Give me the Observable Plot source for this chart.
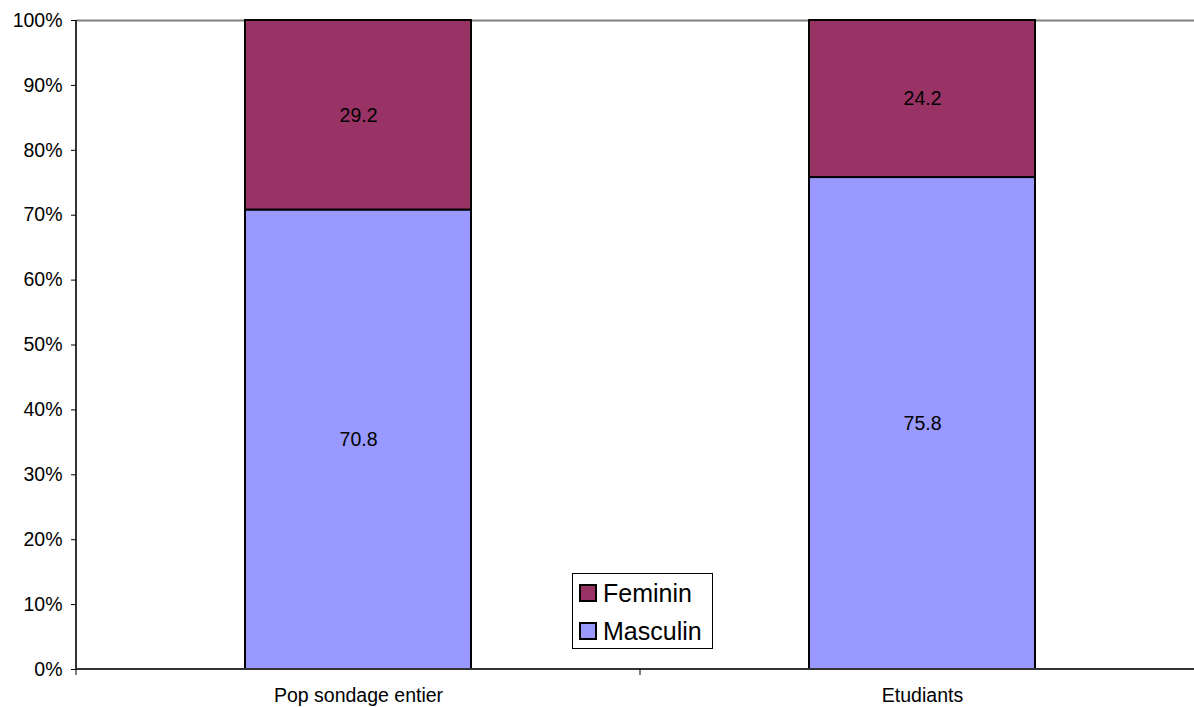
<!DOCTYPE html>
<html>
<head>
<meta charset="utf-8">
<script src="https://cdn.jsdelivr.net/npm/d3@7"></script>
<script src="https://cdn.jsdelivr.net/npm/@observablehq/plot@0.6"></script>
<style>
  html, body { margin: 0; padding: 0; background: #fff; overflow: hidden; }
  #wrap { position: relative; width: 1194px; height: 707px; font-family: "Liberation Sans", Arial, sans-serif; }
  #legend { position: absolute; left: 572px; top: 573px; width: 141px; height: 76px; border: 1px solid #000; background: #fff; box-sizing: border-box; }
  .item { position: absolute; left: 6px; display: flex; align-items: center; font-size: 25px; line-height: 28px; color: #000; }
  .sw { width: 14px; height: 14px; border: 2px solid #000; margin-right: 6px; box-sizing: content-box; }
</style>
</head>
<body>
<div id="wrap">
  <div id="chart"></div>
  <div id="legend"></div>
</div>
<script>
const categories = ["Pop sondage entier", "Etudiants"];
const series = ["Masculin", "Feminin"];
const masculin = [70.8, 75.8];
const feminin = [29.2, 24.2];
const yTicks = [0, 10, 20, 30, 40, 50, 60, 70, 80, 90, 100];
const colors = {Masculin: "#9999FF", Feminin: "#993366"};

const data = [];
categories.forEach((c, i) => {
  data.push({cat: c, serie: "Masculin", value: masculin[i]});
  data.push({cat: c, serie: "Feminin", value: feminin[i]});
});

const axisLines = (index, scales, values, dimensions) => {
  const x = scales.x, y = scales.y;
  const step = x.step(), bw = x.bandwidth();
  const g = d3.create("svg:g");
  const y0 = y(0), y100 = y(100);
  const xs = categories.map(c => x(c) - (step - bw) / 2);
  xs.push(x(categories[categories.length - 1]) + bw + (step - bw) / 2);
  g.append("line").attr("x1", xs[0]).attr("x2", xs[0]).attr("y1", y100).attr("y2", y0)
    .attr("stroke", "#333").attr("stroke-width", 2);
  g.append("line").attr("x1", xs[0]).attr("x2", xs[xs.length - 1]).attr("y1", y0).attr("y2", y0)
    .attr("stroke", "#333").attr("stroke-width", 2);
  xs.forEach(px => {
    g.append("line").attr("x1", px).attr("x2", px).attr("y1", y0).attr("y2", y0 + 6)
      .attr("stroke", "#000").attr("stroke-width", 1);
  });
  return g.node();
};

const chart = Plot.plot({
  width: 1194,
  height: 707,
  marginTop: 20,
  marginBottom: 38,
  marginLeft: 76,
  marginRight: 0,
  style: {fontFamily: "Liberation Sans, Arial, sans-serif", background: "#fff"},
  x: {domain: categories, range: [76, 1204], paddingInner: 0.6, paddingOuter: 0.3, axis: null},
  y: {domain: [0, 100], axis: null},
  color: {domain: series, range: [colors.Masculin, colors.Feminin]},
  marks: [
    Plot.ruleY([100], {stroke: "#808080", strokeWidth: 2}),
    Plot.barY(data, Plot.stackY({x: "cat", y: "value", fill: "serie", z: "serie", order: series, stroke: "#000", strokeWidth: 2})),
    Plot.text(data, Plot.stackY({x: "cat", y: "value", z: "serie", order: series, text: d => d.value.toFixed(1), fontSize: 19.5, fill: "#000"})),
    axisLines,
    Plot.axisY(yTicks, {label: null, tickSize: 5, tickFormat: d => d + "%", fontSize: 19.5, tickPadding: 9, stroke: "#000", color: "#000"}),
    Plot.axisX(categories, {label: null, tickSize: 0, tickPadding: 19, fontSize: 19.5, color: "#000"})
  ]
});
document.getElementById("chart").appendChild(chart);

const legend = document.getElementById("legend");
[["Feminin", colors.Feminin, 5], ["Masculin", colors.Masculin, 43]].forEach(([name, col, top]) => {
  const it = document.createElement("div");
  it.className = "item";
  it.style.top = top + "px";
  const sw = document.createElement("div");
  sw.className = "sw";
  sw.style.background = col;
  it.appendChild(sw);
  const t = document.createElement("span");
  t.textContent = name;
  it.appendChild(t);
  legend.appendChild(it);
});
</script>
</body>
</html>
